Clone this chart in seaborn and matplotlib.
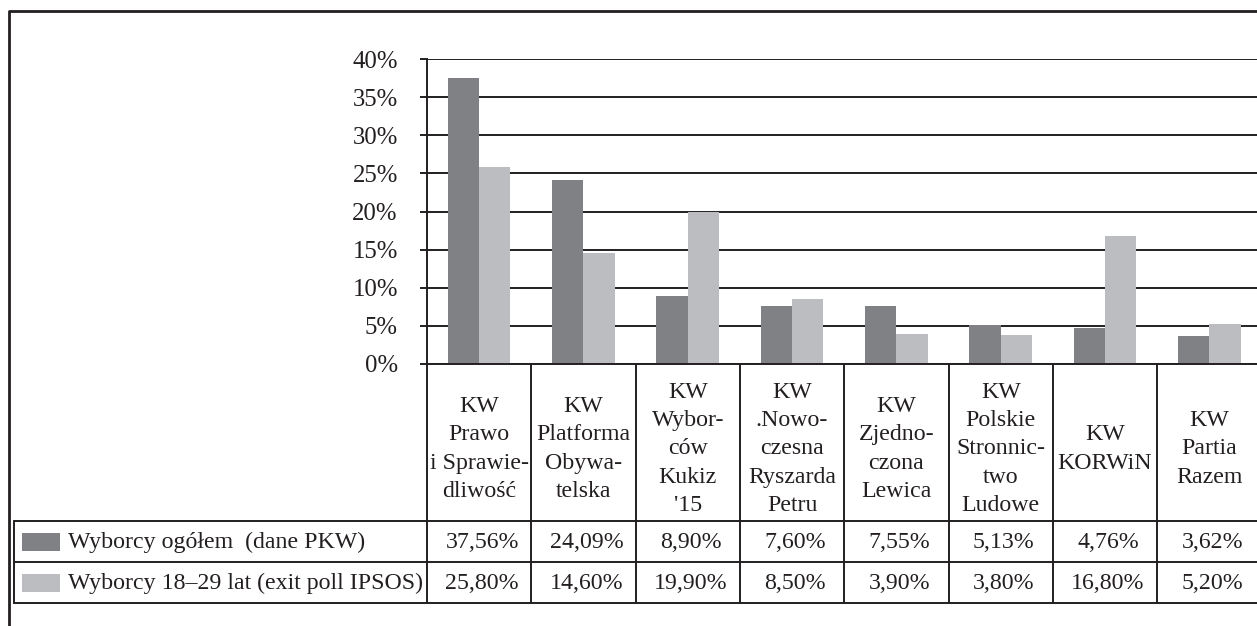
import matplotlib
matplotlib.use("Agg")
import pandas as pd
import matplotlib.pyplot as plt
import seaborn as sns

# dane z wykresu
partie = [
    "KW\nPrawo\ni Sprawie-\ndliwość",
    "KW\nPlatforma\nObywa-\ntelska",
    "KW\nWybor-\nców\nKukiz\n'15",
    "KW\n.Nowo-\nczesna\nRyszarda\nPetru",
    "KW\nZjedno-\nczona\nLewica",
    "KW\nPolskie\nStronnic-\ntwo\nLudowe",
    "KW\nKORWiN",
    "KW\nPartia\nRazem",
]
serie = ["Wyborcy ogółem  (dane PKW)", "Wyborcy 18–29 lat (exit poll IPSOS)"]
ogolem = [37.56, 24.09, 8.90, 7.60, 7.55, 5.13, 4.76, 3.62]
mlodzi = [25.80, 14.60, 19.90, 8.50, 3.90, 3.80, 16.80, 5.20]
y_ticks = [0, 5, 10, 15, 20, 25, 30, 35, 40]
kolory = ["#808185", "#bcbdc0"]

df = pd.DataFrame({
    "partia": partie * 2,
    "seria": [serie[0]] * len(partie) + [serie[1]] * len(partie),
    "wartosc": ogolem + mlodzi,
})

sns.set_theme(style="white")
plt.rcParams["font.family"] = ["Liberation Serif", "DejaVu Serif"]
ink = "#231f20"
fs = 17.2

W, H = 1257, 626
fig = plt.figure(figsize=(W / 100, H / 100), dpi=100)
ax_left, ax_top, ax_bottom = 427, 59, 364
ax = fig.add_axes([ax_left / W, 1 - ax_bottom / H, 1 - ax_left / W, (ax_bottom - ax_top) / H])

sns.barplot(data=df, x="partia", y="wartosc", hue="seria", palette=kolory,
            width=0.6, saturation=1, linewidth=0, legend=False, ax=ax)

col_w = 104.3
ax.set_xlim(-0.5, -0.5 + (W - ax_left) / col_w)
ax.set_ylim(0, 40)
ax.set_yticks(y_ticks)
ax.set_yticklabels([f"{t}%" for t in y_ticks], fontsize=fs + 0.6, color=ink)
ax.set_xticks([])
ax.set_xlabel("")
ax.set_ylabel("")
ax.yaxis.grid(True, color=ink, lw=1.4)
ax.set_axisbelow(True)
ax.tick_params(axis="y", left=True, length=5, width=1.4, color=ink, pad=16, direction="out")
for s in ["top", "right"]:
    ax.spines[s].set_visible(False)
for s in ["left", "bottom"]:
    ax.spines[s].set_color(ink)
    ax.spines[s].set_linewidth(1.4)

# tabela pod wykresem (wspolrzedne w pikselach, y od gory)
tab = fig.add_axes([0, 0, 1, 1], facecolor="none")
tab.set_xlim(0, W)
tab.set_ylim(H, 0)
tab.axis("off")

def px_x(v):
    return ax.transData.transform((v, 0))[0]

bounds = [px_x(i - 0.5) for i in range(len(partie) + 1)]
tab_left = 14
y_head, y_r1, y_r2 = 521, 562, 603
lw = 1.4

tab.plot([tab_left, W], [y_head, y_head], color=ink, lw=lw)
tab.plot([tab_left, W], [y_r1, y_r1], color=ink, lw=lw)
tab.plot([tab_left, W], [y_r2, y_r2], color=ink, lw=lw)
tab.plot([tab_left, tab_left], [y_head, y_r2], color=ink, lw=lw)
for b in bounds:
    tab.plot([b, b], [ax_bottom, y_r2], color=ink, lw=lw)

for i, nazwa in enumerate(partie):
    cx = (bounds[i] + bounds[i + 1]) / 2
    tab.text(cx, 449, nazwa, ha="center", va="center",
             fontsize=fs, color=ink, linespacing=1.45)
    tab.text(cx + 3, (y_head + y_r1) / 2 + 1, f"{ogolem[i]:.2f}%".replace(".", ","),
             ha="center", va="center", fontsize=fs, color=ink)
    tab.text(cx + 3, (y_r1 + y_r2) / 2 + 1, f"{mlodzi[i]:.2f}%".replace(".", ","),
             ha="center", va="center", fontsize=fs, color=ink)

for r, (y0, y1) in enumerate([(y_head, y_r1), (y_r1, y_r2)]):
    yc = (y0 + y1) / 2
    tab.add_patch(plt.Rectangle((22, yc - 9), 38, 18, color=kolory[r], lw=0))
    tab.text(68, yc + 1, serie[r], ha="left", va="center", fontsize=fs, color=ink)

# ramka zewnetrzna
tab.plot([9, 9, W], [H, 11, 11], color=ink, lw=2)

fig.savefig("out.png", dpi=100, facecolor="white")
